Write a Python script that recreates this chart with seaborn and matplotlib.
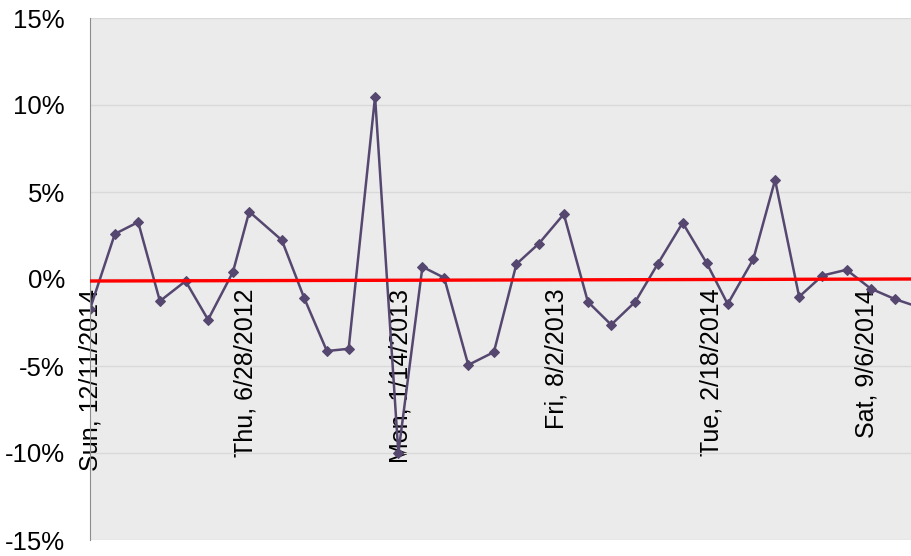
import numpy as np
import pandas as pd
import seaborn as sns
import matplotlib.pyplot as plt
import matplotlib.dates as mdates
from matplotlib.ticker import FuncFormatter

dates = [
    "2011-12-11", "2012-01-12", "2012-02-11", "2012-03-10", "2012-04-12", "2012-05-11",
    "2012-06-12", "2012-07-03", "2012-08-14", "2012-09-12", "2012-10-11", "2012-11-08",
    "2012-12-12", "2013-01-11", "2013-02-11", "2013-03-11", "2013-04-11", "2013-05-14",
    "2013-06-12", "2013-07-11", "2013-08-12", "2013-09-12", "2013-10-12", "2013-11-12",
    "2013-12-11", "2014-01-12", "2014-02-12", "2014-03-11", "2014-04-13", "2014-05-11",
    "2014-06-11", "2014-07-11", "2014-08-11", "2014-09-11", "2014-10-12", "2014-11-11",
]
returns = [
    -1.73, 2.59, 3.27, -1.27, -0.12, -2.34,
    0.40, 3.87, 2.23, -1.12, -4.14, -4.01,
    10.48, -10.0, 0.70, 0.07, -4.94, -4.20,
    0.86, 2.04, 3.73, -1.31, -2.63, -1.31,
    0.87, 3.23, 0.91, -1.44, 1.14, 5.69,
    -1.02, 0.20, 0.53, -0.55, -1.15, -1.60,
]
tick_dates = ["2011-12-11", "2012-06-28", "2013-01-14", "2013-08-02", "2014-02-18", "2014-09-06"]
tick_labels = ["Sun, 12/11/2014", "Thu, 6/28/2012", "Mon, 1/14/2013",
               "Fri, 8/2/2013", "Tue, 2/18/2014", "Sat, 9/6/2014"]
y_ticks = [-15, -10, -5, 0, 5, 10, 15]

df = pd.DataFrame({"date": pd.to_datetime(dates), "ret": returns})

sns.set_style("white")
plt.rcParams["font.family"] = ["Liberation Sans", "DejaVu Sans"]

fig = plt.figure(figsize=(9.11, 5.56), dpi=100)
ax = fig.add_axes([90 / 911, 1 - 540 / 556, 1 - 90 / 911, 522 / 556])
ax.set_facecolor("#EBEBEB")

x_left = pd.Timestamp("2011-12-11")
x_right = x_left + pd.Timedelta(days=1057)

# linear trend line
xn = mdates.date2num(df["date"])
slope, icpt = np.polyfit(xn, df["ret"], 1)
tx = np.array([mdates.date2num(x_left), mdates.date2num(x_right)])
ax.plot(mdates.num2date(tx), slope * tx + icpt, color="#FF0000", linewidth=2.4, zorder=3)

sns.lineplot(data=df, x="date", y="ret", ax=ax, color="#55476F", linewidth=1.8,
             marker="D", markersize=5.5, markeredgecolor="#55476F", zorder=2)

ax.set_xlim(x_left, x_right)
ax.set_ylim(-15, 15)
ax.set_yticks(y_ticks)
ax.yaxis.set_major_formatter(FuncFormatter(lambda v, p: f"{v:.0f}%"))
ax.grid(axis="y", color="#D9D9D9", linewidth=1)
ax.set_axisbelow(True)

# x axis sits on the zero line, labels hang down into the plot
ax.spines["bottom"].set_position(("data", 0))
ax.spines["bottom"].set_visible(False)
for s in ["top", "right"]:
    ax.spines[s].set_visible(False)
ax.spines["left"].set_color("#8C8C8C")
ax.set_xticks(pd.to_datetime(tick_dates))
ax.set_xticklabels(tick_labels)
ax.tick_params(axis="x", length=4, color="#8C8C8C", labelsize=18, pad=3,
               direction="out", labelrotation=90, labelcolor="black")
ax.tick_params(axis="y", length=0, labelsize=18.5, pad=18, labelcolor="black")
ax.set_xlabel("")
ax.set_ylabel("")

fig.savefig("out.png", dpi=100)
